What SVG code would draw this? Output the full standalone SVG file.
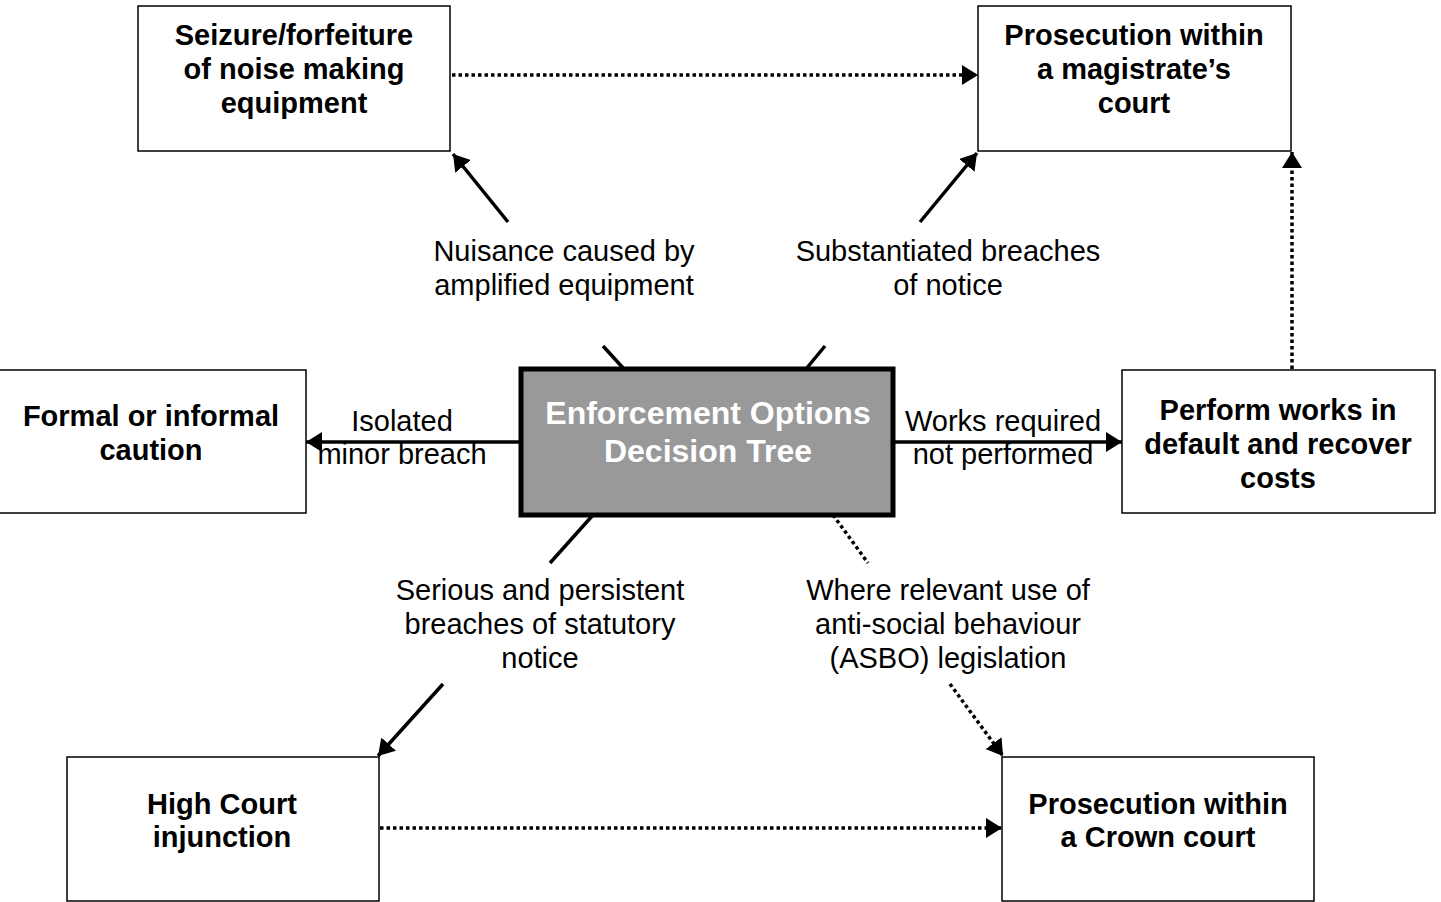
<svg xmlns="http://www.w3.org/2000/svg" width="1441" height="902" viewBox="0 0 1441 902">
<style>
.box{fill:#fff;stroke:#000;stroke-width:1.5}
.center{fill:#999;stroke:#000;stroke-width:5}
.bt{font-family:"Liberation Sans",Arial,sans-serif;font-weight:bold;font-size:29px;text-anchor:middle;fill:#000}
.ct{font-family:"Liberation Sans",Arial,sans-serif;font-weight:bold;font-size:32px;text-anchor:middle;fill:#fff}
.lt{font-family:"Liberation Sans",Arial,sans-serif;font-size:29px;text-anchor:middle;fill:#000}
.s{stroke:#000;stroke-width:3.5;fill:none}
.d{stroke:#000;stroke-width:3.5;fill:none;stroke-dasharray:3.5 3}
</style>
<defs>
<marker id="ah" markerUnits="userSpaceOnUse" markerWidth="17" markerHeight="20" refX="16" refY="10" orient="auto">
<path d="M0,0 L16,10 L0,20 z" fill="#000"/>
</marker>
</defs>
<rect width="1441" height="902" fill="#fff"/>
<g id="connectors">
<line class="d" x1="452" y1="75" x2="978" y2="75" marker-end="url(#ah)"/>
<line class="s" x1="508" y1="222" x2="453" y2="154" marker-end="url(#ah)"/>
<line class="s" x1="603" y1="346" x2="624" y2="369"/>
<line class="s" x1="920" y1="222" x2="977" y2="153" marker-end="url(#ah)"/>
<line class="s" x1="825" y1="346" x2="806" y2="369"/>
<line class="d" x1="1292" y1="369" x2="1292" y2="152" marker-end="url(#ah)"/>
<line class="s" x1="521" y1="442" x2="306" y2="442" marker-end="url(#ah)"/>
<line class="s" x1="893" y1="442" x2="1122" y2="442" marker-end="url(#ah)"/>
<line class="s" x1="593" y1="515" x2="550" y2="563"/>
<line class="s" x1="443" y1="684" x2="378" y2="756" marker-end="url(#ah)"/>
<line class="d" x1="833" y1="515" x2="868" y2="563"/>
<line class="d" x1="950" y1="684" x2="1003" y2="756" marker-end="url(#ah)"/>
<line class="d" x1="380" y1="828" x2="1002" y2="828" marker-end="url(#ah)"/>
</g>
<g id="seizure">
<rect class="box" x="138" y="6" width="312" height="145"/>
<text class="bt" x="294" y="45">Seizure/forfeiture</text>
<text class="bt" x="294" y="79">of noise making</text>
<text class="bt" x="294" y="113">equipment</text>
</g>
<g id="magistrate">
<rect class="box" x="978" y="6" width="313" height="145"/>
<text class="bt" x="1134" y="45">Prosecution within</text>
<text class="bt" x="1134" y="79">a magistrate’s</text>
<text class="bt" x="1134" y="113">court</text>
</g>
<g id="caution">
<rect class="box" x="-1" y="370" width="307" height="143"/>
<text class="bt" x="151" y="426">Formal or informal</text>
<text class="bt" x="151" y="460">caution</text>
</g>
<g id="center">
<rect class="center" x="521" y="369" width="372" height="146"/>
<text class="ct" x="708" y="424">Enforcement Options</text>
<text class="ct" x="708" y="462">Decision Tree</text>
</g>
<g id="perform">
<rect class="box" x="1122" y="370" width="313" height="143"/>
<text class="bt" x="1278" y="420">Perform works in</text>
<text class="bt" x="1278" y="454">default and recover</text>
<text class="bt" x="1278" y="488">costs</text>
</g>
<g id="highcourt">
<rect class="box" x="67" y="757" width="312" height="144"/>
<text class="bt" x="222" y="814">High Court</text>
<text class="bt" x="222" y="847">injunction</text>
</g>
<g id="crown">
<rect class="box" x="1002" y="757" width="312" height="144"/>
<text class="bt" x="1158" y="814">Prosecution within</text>
<text class="bt" x="1158" y="847">a Crown court</text>
</g>
<g id="labels">
<text class="lt" x="564" y="261">Nuisance caused by</text>
<text class="lt" x="564" y="295">amplified equipment</text>
<text class="lt" x="948" y="261">Substantiated breaches</text>
<text class="lt" x="948" y="295">of notice</text>
<text class="lt" x="402" y="431">Isolated</text>
<text class="lt" x="402" y="464">minor breach</text>
<text class="lt" x="1003" y="431">Works required</text>
<text class="lt" x="1003" y="464">not performed</text>
<text class="lt" x="540" y="600">Serious and persistent</text>
<text class="lt" x="540" y="634">breaches of statutory</text>
<text class="lt" x="540" y="668">notice</text>
<text class="lt" x="948" y="600">Where relevant use of</text>
<text class="lt" x="948" y="634">anti-social behaviour</text>
<text class="lt" x="948" y="668">(ASBO) legislation</text>
</g>
</svg>
